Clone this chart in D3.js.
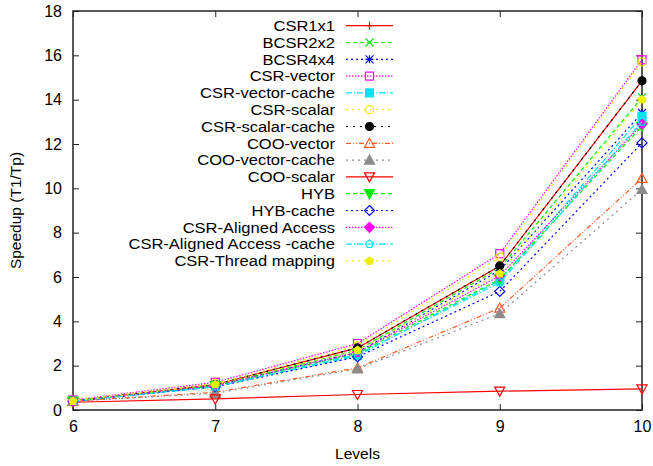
<!DOCTYPE html>
<html>
<head>
<meta charset="utf-8">
<script src="https://cdn.jsdelivr.net/npm/d3@7"></script>
<style>
body{margin:0;background:#fff;}
svg text{font-family:"Liberation Sans",Arial,sans-serif;fill:#000;}
</style>
</head>
<body>
<svg id="chart" width="653" height="466"></svg>
<script>
const levels = [6, 7, 8, 9, 10];
const xTicks = [6, 7, 8, 9, 10];
const yTicks = [0, 2, 4, 6, 8, 10, 12, 14, 16, 18];
const seriesNames = ["CSR1x1","BCSR2x2","BCSR4x4","CSR-vector","CSR-vector-cache","CSR-scalar","CSR-scalar-cache","COO-vector","COO-vector-cache","COO-scalar","HYB","HYB-cache","CSR-Aligned Access","CSR-Aligned Access -cache","CSR-Thread mapping"];
const csr1x1          = [0.40, 1.15, 2.80, 6.50, 14.85];
const bcsr2x2         = [0.40, 1.10, 2.70, 6.40, 14.10];
const bcsr4x4         = [0.40, 1.10, 2.60, 6.30, 13.40];
const csrVector       = [0.45, 1.25, 3.00, 7.05, 15.80];
const csrVectorCache  = [0.40, 1.05, 2.45, 5.85, 13.25];
const csrScalar       = [0.45, 1.20, 2.90, 6.90, 15.70];
const csrScalarCache  = [0.40, 1.15, 2.80, 6.50, 14.85];
const cooVector       = [0.40, 0.80, 1.90, 4.60, 10.45];
const cooVectorCache  = [0.40, 0.75, 1.85, 4.35, 9.95];
const cooScalar       = [0.35, 0.50, 0.70, 0.85, 0.95];
const hyb             = [0.40, 1.10, 2.55, 5.90, 12.80];
const hybCache        = [0.40, 1.05, 2.40, 5.35, 12.05];
const csrAligned      = [0.40, 1.10, 2.60, 6.05, 12.90];
const csrAlignedCache = [0.40, 1.05, 2.50, 5.75, 13.00];
const csrThread       = [0.40, 1.15, 2.70, 6.15, 14.00];
const seriesValues = [csr1x1,bcsr2x2,bcsr4x4,csrVector,csrVectorCache,csrScalar,csrScalarCache,cooVector,cooVectorCache,cooScalar,hyb,hybCache,csrAligned,csrAlignedCache,csrThread];

const colors = ["#ff0000","#00ee00","#0000ff","#ff00ff","#00e5ee","#eeee00","#000000","#ff5a1e","#8c8c8c","#ff0000","#00ee00","#0000ff","#ff00ff","#00e5ee","#eeee00"];
const dashes = [null,"4,3","2,3","1.5,1.5","6,2,1,2","2,4","2,5","5,2,1,2,1,2","2,4",null,"4,3","2,3","1.5,1.5","6,2,1,2","2,4"];
const markers = ["plus","cross","star","sqOpen","sqFill","cirOpen","cirFill","triOpen","triFill","itriOpen","itriFill","diaOpen","diaFill","pentOpen","pentFill"];

const svg = d3.select("#chart");
const L = 73, R = 642, T = 11, B = 410;
const x = d3.scaleLinear().domain([6, 10]).range([L, R]);
const y = d3.scaleLinear().domain([0, 18]).range([B, T]);

const axisColor = "#222";
const gB = svg.append("g").attr("transform", `translate(0,${B})`)
  .call(d3.axisBottom(x).tickValues(xTicks).tickSize(-6).tickPadding(11).tickFormat(d3.format("d")));
const gT = svg.append("g").attr("transform", `translate(0,${T})`)
  .call(d3.axisTop(x).tickValues(xTicks).tickSize(-6).tickFormat(""));
const gL = svg.append("g").attr("transform", `translate(${L},0)`)
  .call(d3.axisLeft(y).tickValues(yTicks).tickSize(-6).tickPadding(11).tickFormat(d3.format("d")));
const gR = svg.append("g").attr("transform", `translate(${R},0)`)
  .call(d3.axisRight(y).tickValues(yTicks).tickSize(-6).tickFormat(""));
[gB,gT,gL,gR].forEach(g => {
  g.select(".domain").remove();
  g.selectAll(".tick line").attr("stroke", axisColor).attr("stroke-width", 1);
  g.selectAll(".tick text").attr("font-size", 16).attr("font-family", "Liberation Sans, Arial, sans-serif");
});
svg.append("rect").attr("x", L).attr("y", T).attr("width", R - L).attr("height", B - T)
  .attr("fill", "none").attr("stroke", axisColor).attr("stroke-width", 1.5);

svg.append("text").attr("x", (L + R) / 2).attr("y", 459).attr("text-anchor", "middle")
  .attr("font-size", 15.5).text("Levels");
svg.append("text").attr("transform", `translate(21,${(T + B) / 2}) rotate(-90)`)
  .attr("text-anchor", "middle").attr("font-size", 15.5).text("Speedup (T1/Tp)");

function drawMarker(g, type, cx, cy, color) {
  const s = 4;
  const filled = type.endsWith("Fill");
  const fill = filled ? color : "none";
  const sw = 1.2;
  if (type === "plus") {
    g.append("path").attr("d", `M${cx-s},${cy}H${cx+s}M${cx},${cy-s}V${cy+s}`).attr("stroke", color).attr("stroke-width", sw);
  } else if (type === "cross") {
    g.append("path").attr("d", `M${cx-s},${cy-s}L${cx+s},${cy+s}M${cx-s},${cy+s}L${cx+s},${cy-s}`).attr("stroke", color).attr("stroke-width", sw);
  } else if (type === "star") {
    g.append("path").attr("d", `M${cx-s},${cy}H${cx+s}M${cx},${cy-s}V${cy+s}M${cx-s},${cy-s}L${cx+s},${cy+s}M${cx-s},${cy+s}L${cx+s},${cy-s}`).attr("stroke", color).attr("stroke-width", sw);
  } else if (type.startsWith("sq")) {
    g.append("rect").attr("x", cx - s).attr("y", cy - s).attr("width", 2 * s).attr("height", 2 * s).attr("fill", fill).attr("stroke", color).attr("stroke-width", sw);
  } else if (type.startsWith("cir")) {
    g.append("circle").attr("cx", cx).attr("cy", cy).attr("r", s).attr("fill", fill).attr("stroke", color).attr("stroke-width", sw);
  } else if (type.startsWith("tri")) {
    g.append("path").attr("d", `M${cx},${cy-s-1}L${cx+s+1},${cy+s}L${cx-s-1},${cy+s}Z`).attr("fill", fill).attr("stroke", color).attr("stroke-width", sw);
  } else if (type.startsWith("itri")) {
    g.append("path").attr("d", `M${cx},${cy+s+1}L${cx+s+1},${cy-s}L${cx-s-1},${cy-s}Z`).attr("fill", fill).attr("stroke", color).attr("stroke-width", sw);
  } else if (type.startsWith("dia")) {
    g.append("path").attr("d", `M${cx},${cy-s-1}L${cx+s+1},${cy}L${cx},${cy+s+1}L${cx-s-1},${cy}Z`).attr("fill", fill).attr("stroke", color).attr("stroke-width", sw);
  } else if (type.startsWith("pent")) {
    const pts = d3.range(5).map(i => {
      const a = -Math.PI / 2 + i * 2 * Math.PI / 5;
      return [cx + s * Math.cos(a), cy + s * Math.sin(a)];
    });
    g.append("path").attr("d", "M" + pts.join("L") + "Z").attr("fill", fill).attr("stroke", color).attr("stroke-width", sw);
  }
}

const line = d3.line().x((d, i) => x(levels[i])).y(d => y(d));
const plot = svg.append("g");
seriesValues.forEach((vals, k) => {
  const g = plot.append("g");
  g.append("path").attr("d", line(vals)).attr("fill", "none").attr("stroke", colors[k])
    .attr("stroke-width", 1.2).attr("stroke-dasharray", dashes[k]);
  vals.forEach((v, i) => drawMarker(g, markers[k], x(levels[i]), y(v), colors[k]));
});

const lg = svg.append("g");
seriesNames.forEach((name, k) => {
  const yy = 25.7 + k * 16.8;
  lg.append("g").attr("transform", `translate(335,${yy}) scale(1.14,1)`)
    .append("text").attr("x", 0).attr("y", 0).attr("dy", "0.36em").attr("text-anchor", "end")
    .attr("font-size", 14.5).text(name);
  lg.append("line").attr("x1", 346).attr("x2", 393).attr("y1", yy).attr("y2", yy)
    .attr("stroke", colors[k]).attr("stroke-width", 1.2).attr("stroke-dasharray", dashes[k]);
  drawMarker(lg, markers[k], 369.5, yy, colors[k]);
});
</script>
</body>
</html>
